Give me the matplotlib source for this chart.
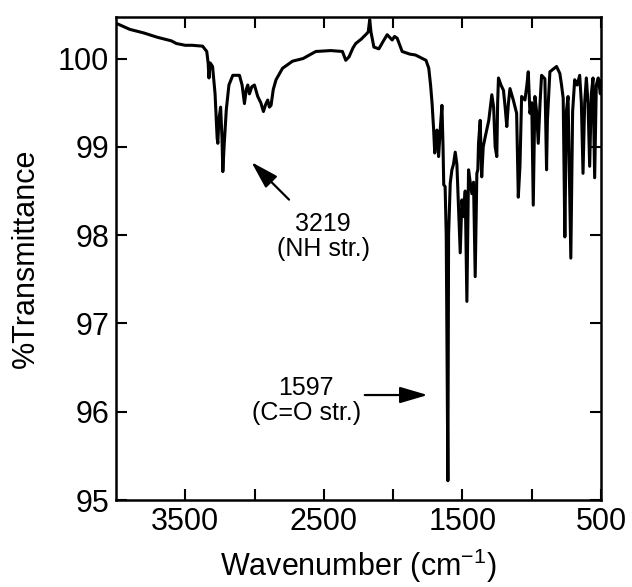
import matplotlib
matplotlib.use("Agg")
import matplotlib.pyplot as plt

plt.rcParams["font.family"] = ["Liberation Sans", "DejaVu Sans"]
plt.rcParams["mathtext.fontset"] = "custom"
plt.rcParams["mathtext.rm"] = "Liberation Sans"

# IR spectrum (wavenumber in cm-1, %T)
wavenumber = [
    4000, 3900, 3800, 3700, 3600, 3564, 3500, 3450, 3375, 3345, 3335, 3329,
    3320, 3303, 3285, 3270, 3265, 3258, 3245, 3235, 3229, 3220, 3204, 3185,
    3157, 3109, 3090, 3073, 3060, 3049, 3037, 3020, 3001, 2977, 2955, 2936,
    2920, 2905, 2893, 2881, 2865, 2845, 2798, 2726, 2650, 2558, 2450, 2366,
    2342, 2318, 2290, 2270, 2230, 2198, 2180, 2169, 2160, 2139, 2103, 2070,
    2043, 2007, 1990, 1971, 1935, 1880, 1839, 1763, 1743, 1730, 1719, 1708,
    1700, 1692, 1684, 1672, 1660, 1648, 1640, 1635, 1625, 1617, 1605, 1600,
    1588, 1576, 1565, 1552, 1540, 1528, 1516, 1504, 1492, 1480, 1468, 1456,
    1444, 1432, 1420, 1408, 1396, 1389, 1384, 1372, 1361, 1350, 1336, 1310,
    1288, 1275, 1264, 1252, 1246, 1240, 1222, 1204, 1192, 1180, 1168, 1157,
    1133, 1109, 1097, 1085, 1073, 1049, 1035, 1025, 1013, 1000, 989, 977,
    965, 953, 940, 929, 905, 893, 887, 869, 845, 821, 797, 785,
    773, 761, 750, 738, 718, 705, 690, 672, 654, 642, 630, 618,
    606, 594, 582, 570, 558, 546, 534, 520, 505, 500,
]
transmittance = [
    100.40, 100.33, 100.29, 100.24, 100.20, 100.17, 100.15, 100.15, 100.14, 100.08, 99.95, 99.78,
    99.95, 99.91, 99.60, 99.10, 99.04, 99.30, 99.45, 99.10, 98.72, 99.00, 99.42, 99.70,
    99.81, 99.81, 99.70, 99.49, 99.65, 99.70, 99.60, 99.68, 99.70, 99.57, 99.50, 99.40,
    99.48, 99.53, 99.45, 99.47, 99.65, 99.76, 99.89, 99.97, 100.00, 100.08, 100.09, 100.08,
    99.98, 100.02, 100.12, 100.17, 100.22, 100.27, 100.30, 100.44, 100.30, 100.13, 100.11, 100.20,
    100.27, 100.21, 100.25, 100.23, 100.08, 100.05, 100.04, 99.98, 99.89, 99.70, 99.49, 99.20,
    98.93, 99.10, 99.19, 98.89, 99.20, 99.47, 99.00, 98.57, 98.55, 98.00, 95.22, 98.00,
    98.59, 98.74, 98.80, 98.94, 98.80, 98.30, 97.80, 98.40, 98.21, 98.50, 97.25, 98.74,
    98.60, 98.47, 98.60, 97.53, 98.70, 98.74, 99.04, 99.30, 98.66, 99.00, 99.11, 99.30,
    99.59, 99.45, 99.00, 98.89, 99.50, 99.78, 99.70, 99.64, 99.45, 99.23, 99.50, 99.66,
    99.53, 99.38, 98.43, 98.78, 99.57, 99.53, 99.70, 99.85, 99.38, 99.50, 98.34, 99.57,
    99.40, 99.04, 99.50, 99.81, 99.77, 98.74, 99.30, 99.85, 99.88, 99.91, 99.83, 99.70,
    99.55, 97.98, 99.40, 99.57, 97.74, 99.40, 99.76, 99.70, 99.81, 99.50, 98.70, 99.50,
    99.78, 99.50, 98.78, 99.60, 99.78, 98.65, 99.70, 99.78, 99.60, 99.75,
]

x_ticks = [3500, 2500, 1500, 500]
y_ticks = [95, 96, 97, 98, 99, 100]

fig = plt.figure(figsize=(6.32, 5.87), dpi=100)
ax = fig.add_axes([0.1835, 0.148, 0.7675, 0.823])

ax.plot(wavenumber, transmittance, color="black", linewidth=2.2)

ax.set_xlim(4000, 500)
ax.set_ylim(95, 100.47)
ax.set_xticks(x_ticks)
ax.set_xticks([3000, 2000, 1000], minor=True)
ax.set_yticks(y_ticks)
ax.tick_params(which="both", direction="in", top=True, right=True,
               length=8, width=1.5, labelsize=22, pad=5)
for s in ax.spines.values():
    s.set_linewidth(1.8)

ax.set_xlabel("Wavenumber (cm$^{-1}$)", fontsize=22, labelpad=7)
ax.set_ylabel("%Transmittance", fontsize=22, labelpad=12)

# peak labels
arrow_style = "-|>,head_length=0.85,head_width=0.25"
ax.annotate("", xy=(3037, 98.85), xytext=(2737, 98.38),
            arrowprops=dict(arrowstyle=arrow_style, color="black", lw=1.6,
                            mutation_scale=20))
ax.text(2505, 97.99, "3219\n(NH str.)", ha="center", va="center",
        fontsize=18, linespacing=1.05)

ax.annotate("", xy=(1731, 96.19), xytext=(2225, 96.19),
            arrowprops=dict(arrowstyle=arrow_style, color="black", lw=1.6,
                            mutation_scale=20))
ax.text(2627, 96.13, "1597\n(C=O str.)", ha="center", va="center",
        fontsize=18, linespacing=1.05)

fig.savefig("out.png", dpi=100)
plt.close(fig)
